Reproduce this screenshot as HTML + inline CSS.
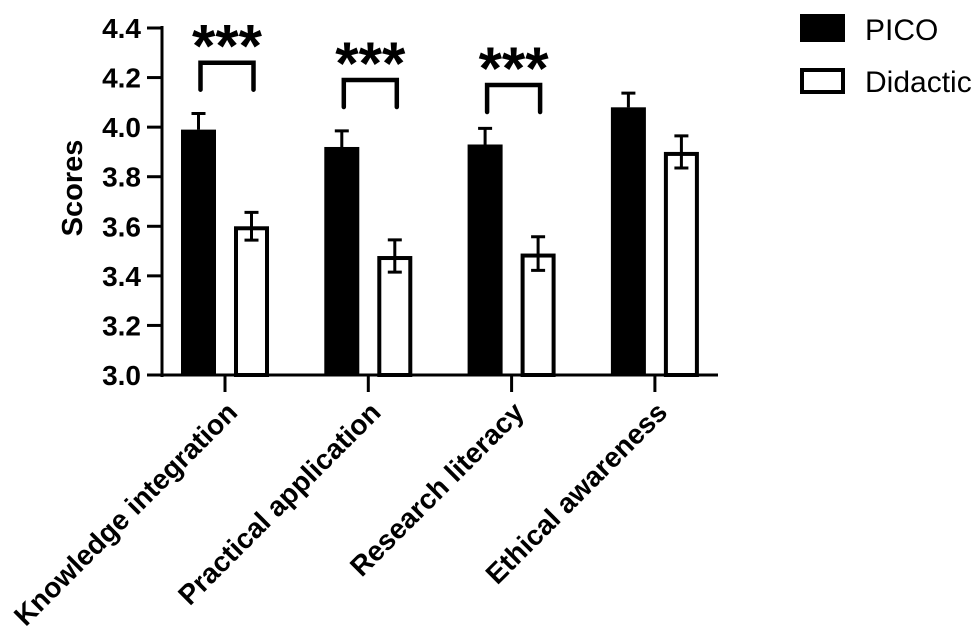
<!DOCTYPE html>
<html><head><meta charset="utf-8"><style>
html,body{margin:0;padding:0;background:#fff;}
svg{display:block;font-family:"Liberation Sans",Arial,sans-serif;}
</style></head><body>
<svg id="chart" width="974" height="633" viewBox="0 0 974 633">
  <g id="axes"></g>
  <g id="bars"></g>
  <g id="sig"></g>
  <text x="0" y="0" transform="translate(82,188) rotate(-90)" text-anchor="middle" font-size="29" font-weight="bold">Scores</text>
  <g>
    <rect x="800" y="14" width="45" height="28" fill="#000"/>
    <text x="865" y="40" font-size="30">PICO</text>
    <rect x="802" y="70" width="41" height="22" fill="#fff" stroke="#000" stroke-width="4"/>
    <text x="865" y="92" font-size="30">Didactic</text>
  </g>
</svg>
<script>
const categories = ["Knowledge integration","Practical application","Research literacy","Ethical awareness"];
const picoValues = [3.99, 3.92, 3.93, 4.08];
const picoErrors = [0.065, 0.065, 0.065, 0.057];
const didacticValues = [3.60, 3.48, 3.49, 3.90];
const didacticErrors = [0.056, 0.065, 0.068, 0.065];
const yTicks = [3.0, 3.2, 3.4, 3.6, 3.8, 4.0, 4.2, 4.4];
const sigLabels = ["***", "***", "***", ""];
const bracketLevels = [4.26, 4.19, 4.17, 0];

const NS = "http://www.w3.org/2000/svg";
const yMin = 3.0, yMax = 4.4, yBottom = 375, yTop = 28;
function yScale(v){ return yBottom - (v - yMin) / (yMax - yMin) * (yBottom - yTop); }
const x0 = 225, pitch = 143.3;
function xCenter(i){ return x0 + i * pitch; }
const barW = 35, halfGap = 9;
function mk(tag, attrs, parent){ const e = document.createElementNS(NS, tag); for (const k in attrs) e.setAttribute(k, attrs[k]); parent.appendChild(e); return e; }

const axes = document.getElementById('axes');
const barsG = document.getElementById('bars');
const sigG = document.getElementById('sig');

let yl = mk('line', {x1:162, y1:yTop-2, x2:162, y2:yBottom+2, stroke:'#000', 'stroke-width':3}, axes);


yTicks.forEach(t => {
  const y = yScale(t);
  const tk = mk('line', {x1:147, y1:y, x2:162, y2:y, stroke:'#000', 'stroke-width':3}, axes);
  
  
  const lb = mk('text', {x:141, y:y+10, 'text-anchor':'end', 'font-size':28, 'font-weight':'bold'}, axes);
  lb.textContent = t.toFixed(1);
  
  
});
let xl = mk('line', {x1:147, y1:yBottom, x2:718, y2:yBottom, stroke:'#000', 'stroke-width':3}, axes);



categories.forEach((c, i) => {
  const cx = xCenter(i);
  const tk = mk('line', {x1:cx, y1:yBottom, x2:cx, y2:392, stroke:'#000', 'stroke-width':3}, axes);
  
  
  const lb = mk('text', {x:0, y:0, transform:`translate(${cx+14},414) rotate(-45)`, 'text-anchor':'end', 'font-size':28, 'font-weight':'bold'}, axes);
  lb.textContent = c;
  
  

  const px = cx - halfGap - barW;
  const pt = yScale(picoValues[i]);
  const pb = mk('rect', {x:px, y:pt, width:barW, height:yBottom-pt, fill:'#000'}, barsG);
  
  
  const pcx = px + barW/2, pe = yScale(picoValues[i] + picoErrors[i]);
  const pel = mk('path', {d:`M${pcx},${pt} V${pe} M${pcx-7},${pe} H${pcx+7}`, stroke:'#000', 'stroke-width':3, fill:'none'}, barsG);
  
  

  const dx = cx + halfGap;
  const dt = yScale(didacticValues[i]);
  const db = mk('rect', {x:dx+2, y:dt+2, width:barW-4, height:yBottom-dt-2, fill:'#fff', stroke:'#000', 'stroke-width':4}, barsG);
  
  
  const dcx = dx + barW/2, de = yScale(didacticValues[i] + didacticErrors[i]), dl = yScale(didacticValues[i] - didacticErrors[i]);
  const del = mk('path', {d:`M${dcx},${dl} V${de} M${dcx-7},${de} H${dcx+7} M${dcx-7},${dl} H${dcx+7}`, stroke:'#000', 'stroke-width':3, fill:'none'}, barsG);
  
  

  if (sigLabels[i]) {
    const by = yScale(bracketLevels[i]);
    const br = mk('path', {d:`M${pcx+2},${by+27} V${by} H${dcx+2} V${by+27}`, stroke:'#000', 'stroke-width':4.5, fill:'none', 'stroke-linecap':'round'}, sigG);
    
    
    const st = mk('text', {x:(pcx+dcx)/2+2, y:by+4, 'text-anchor':'middle', 'font-size':60, 'font-weight':'bold'}, sigG);
    st.textContent = sigLabels[i];
    
    
  }
});
</script>
</body></html>
